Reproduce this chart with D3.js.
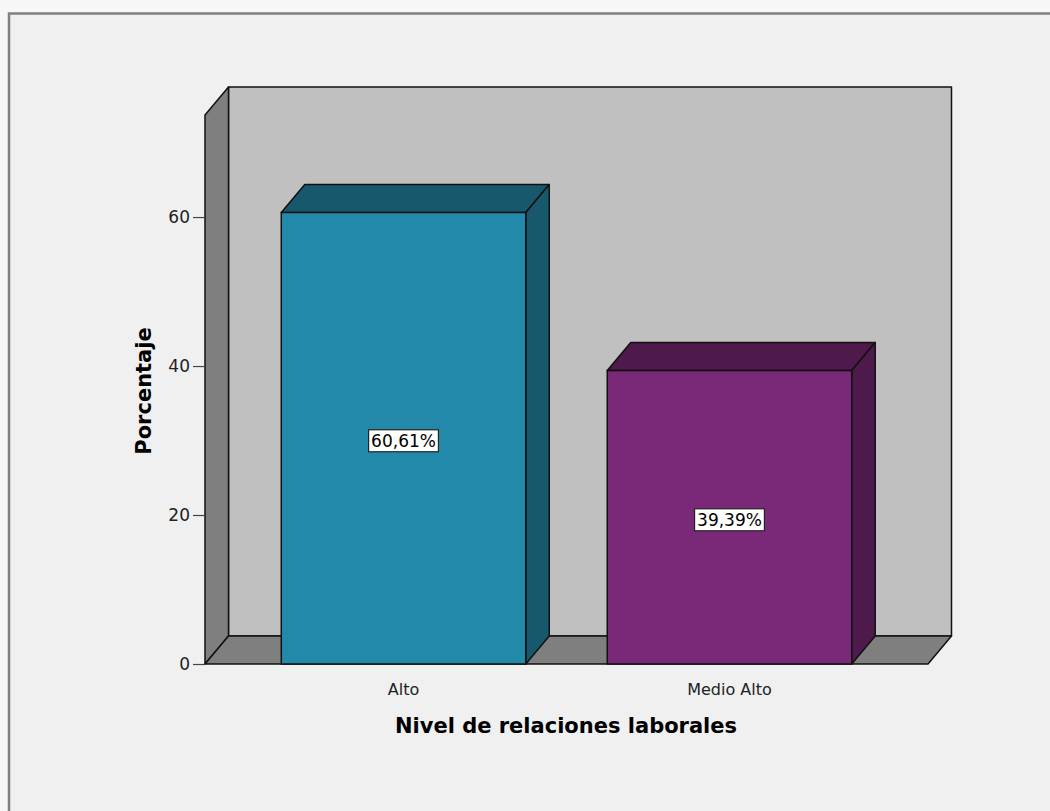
<!DOCTYPE html>
<html>
<head>
<meta charset="utf-8">
<script src="https://cdn.jsdelivr.net/npm/d3@7"></script>
<style>
  html, body { margin: 0; padding: 0; background: #f7f7f7; }
  svg { display: block; }
</style>
</head>
<body>
<svg id="chart" width="1050" height="811"></svg>
<script>
// Data
const categories = ["Alto", "Medio Alto"];
const percentages = [60.61, 39.39];
const valueLabels = ["60,61%", "39,39%"];
const yTicks = [0, 20, 40, 60];
const barFront = ["#2389aa", "#7a2878"];
const barShade = ["#17586c", "#4e1a4c"];

const W = 1050, H = 811;
const svg = d3.select("#chart");

// Panel background and frame
svg.append("rect").attr("x", 9).attr("y", 13).attr("width", W).attr("height", H)
  .attr("fill", "#f0f0f0");
svg.append("path").attr("d", `M9,${H} L9,13.5 L${W},13.5`)
  .attr("fill", "none").attr("stroke", "#808080").attr("stroke-width", 2.5);

// 3D plot box geometry
const x0 = 205, x1 = 928, yBase = 664, yTop = 115;
const dx = 23.5, dy = -28;

const y = d3.scaleLinear().domain([0, 73.7]).range([yBase, yTop]);
const x = d3.scaleBand().domain(categories).range([x0, x1])
  .paddingInner(0.25).paddingOuter(0.234);

const stroke = "#111";
const sw = 1.5;

// Back wall
svg.append("polygon")
  .attr("points", [[x0 + dx, yTop + dy], [x1 + dx, yTop + dy], [x1 + dx, yBase + dy], [x0 + dx, yBase + dy]].join(" "))
  .attr("fill", "#c0c0c0").attr("stroke", stroke).attr("stroke-width", sw).attr("stroke-linejoin", "round");
// Left wall
svg.append("polygon")
  .attr("points", [[x0, yTop], [x0 + dx, yTop + dy], [x0 + dx, yBase + dy], [x0, yBase]].join(" "))
  .attr("fill", "#7f7f7f").attr("stroke", stroke).attr("stroke-width", sw).attr("stroke-linejoin", "round");
// Floor
svg.append("polygon")
  .attr("points", [[x0, yBase], [x0 + dx, yBase + dy], [x1 + dx, yBase + dy], [x1, yBase]].join(" "))
  .attr("fill", "#7f7f7f").attr("stroke", stroke).attr("stroke-width", sw).attr("stroke-linejoin", "round");

// Bars (front, top, side)
const bars = svg.append("g").selectAll("g").data(categories).join("g");
bars.each(function (c, i) {
  const g = d3.select(this);
  const bx = x(c), bw = x.bandwidth(), by = y(percentages[i]);
  g.append("polygon")
    .attr("points", [[bx, by], [bx + dx, by + dy], [bx + bw + dx, by + dy], [bx + bw, by]].join(" "))
    .attr("fill", barShade[i]).attr("stroke", stroke).attr("stroke-width", sw).attr("stroke-linejoin", "round");
  g.append("polygon")
    .attr("points", [[bx + bw, by], [bx + bw + dx, by + dy], [bx + bw + dx, yBase + dy], [bx + bw, yBase]].join(" "))
    .attr("fill", barShade[i]).attr("stroke", stroke).attr("stroke-width", sw).attr("stroke-linejoin", "round");
  g.append("rect")
    .attr("x", bx).attr("y", by).attr("width", bw).attr("height", yBase - by)
    .attr("fill", barFront[i]).attr("stroke", stroke).attr("stroke-width", sw);

  // Value label box
  const cx = bx + bw / 2, cy = (by + yBase) / 2 + 2.5;
  const t = g.append("text")
    .attr("x", cx).attr("y", cy)
    .attr("text-anchor", "middle").attr("dominant-baseline", "central")
    .attr("font-family", "DejaVu Sans, sans-serif").attr("font-size", 17)
    .attr("fill", "#000").text(valueLabels[i]);
  const bb = t.node().getBBox();
  g.insert("rect", "text")
    .attr("x", bb.x - 2.5).attr("y", bb.y - 1).attr("width", bb.width + 5).attr("height", bb.height + 2)
    .attr("fill", "#fff").attr("stroke", "#222").attr("stroke-width", 1.2);
});

// Y axis
const yAxis = d3.axisLeft(y).tickValues(yTicks).tickSize(12).tickPadding(3).tickFormat(d3.format("d"));
const ya = svg.append("g").attr("transform", `translate(${x0},0)`).call(yAxis);
ya.select(".domain").remove();
ya.selectAll(".tick line").attr("stroke", "#444").attr("stroke-width", 1.2);
ya.selectAll(".tick text").attr("font-family", "DejaVu Sans, sans-serif").attr("font-size", 17).attr("fill", "#222");

// X axis labels
const xAxis = d3.axisBottom(x).tickSize(0).tickPadding(20);
const xa = svg.append("g").attr("transform", `translate(0,${yBase})`).call(xAxis);
xa.select(".domain").remove();
xa.selectAll(".tick text").attr("font-family", "DejaVu Sans, sans-serif").attr("font-size", 16).attr("fill", "#222");

// Axis titles
svg.append("text")
  .attr("transform", `translate(151,391) rotate(-90)`)
  .attr("text-anchor", "middle")
  .attr("font-family", "DejaVu Sans, sans-serif").attr("font-weight", "bold").attr("font-size", 21)
  .attr("fill", "#000").text("Porcentaje");
svg.append("text")
  .attr("x", 566).attr("y", 733)
  .attr("text-anchor", "middle")
  .attr("font-family", "DejaVu Sans, sans-serif").attr("font-weight", "bold").attr("font-size", 21)
  .attr("fill", "#000").text("Nivel de relaciones laborales");
</script>
</body>
</html>
